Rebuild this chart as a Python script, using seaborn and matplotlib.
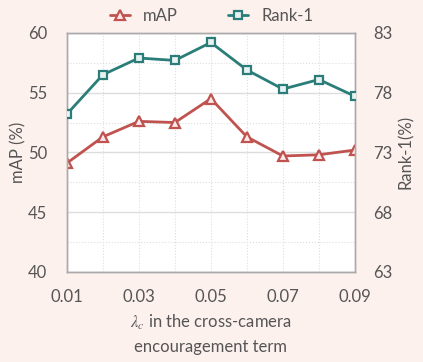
import numpy as np
import pandas as pd
import seaborn as sns
import matplotlib.pyplot as plt
from matplotlib.lines import Line2D

# значения
lam = [0.01, 0.02, 0.03, 0.04, 0.05, 0.06, 0.07, 0.08, 0.09]
map_vals = [49.1, 51.3, 52.6, 52.5, 54.5, 51.3, 49.7, 49.8, 50.2]
rank1_vals = [76.2, 79.5, 80.9, 80.7, 82.2, 79.9, 78.3, 79.1, 77.7]
left_ticks = [40, 45, 50, 55, 60]
right_ticks = [63, 68, 73, 78, 83]
x_ticks = [0.01, 0.03, 0.05, 0.07, 0.09]

red = '#c0534f'
teal = '#2a7d78'
bg = '#fdf1ee'
txt = '#555555'

sns.set_theme(style='white')
plt.rcParams['font.family'] = ['Lato', 'DejaVu Sans']
plt.rcParams['mathtext.fontset'] = 'stix'

df = pd.DataFrame({'lam': lam, 'mAP': map_vals, 'Rank-1': rank1_vals})

fig = plt.figure(figsize=(4.23, 3.62), dpi=100, facecolor=bg)
ax = fig.add_axes([0.158, 0.249, 0.681, 0.660])
ax.set_facecolor('white')

sns.lineplot(data=df, x='lam', y='mAP', ax=ax, color=red, lw=2,
             marker='^', markersize=7, markerfacecolor='#fbeaea',
             markeredgecolor=red, markeredgewidth=1.6, zorder=3)
ax.set_ylim(40, 60)
ax.set_xlim(0.01, 0.09)
ax.set_yticks(left_ticks)
ax.set_yticks([42.5, 47.5, 52.5, 57.5], minor=True)
ax.set_xticks(x_ticks)
ax.set_xticks(lam, minor=True)
ax.set_xticklabels([f'{v:.2f}' for v in x_ticks])

ax.grid(True, which='major', axis='y', color='#dddddd', lw=1, ls='-')
ax.grid(True, which='minor', axis='y', color='#dddddd', lw=0.8, ls=':')
ax.grid(True, which='both', axis='x', color='#dddddd', lw=0.8, ls=':')
ax.set_axisbelow(True)

ax2 = ax.twinx()
sns.lineplot(data=df, x='lam', y='Rank-1', ax=ax2, color=teal, lw=2,
             marker='s', markersize=6, markerfacecolor='#e8f2f1',
             markeredgecolor=teal, markeredgewidth=1.6, zorder=3)
ax2.set_ylim(63, 83)
ax2.set_yticks(right_ticks)

for a in (ax, ax2):
    for s in a.spines.values():
        s.set_color('#aaaaaa')
        s.set_linewidth(1)
    a.tick_params(which='both', length=0, labelsize=12, colors=txt)
ax.tick_params(axis='y', pad=14)
ax.tick_params(axis='x', pad=12)
ax2.tick_params(axis='y', pad=13)

ax.set_ylabel('mAP (%)', fontsize=12, color=txt, labelpad=1)
ax2.set_ylabel('Rank-1(%)', fontsize=12, color=txt, labelpad=4)
ax.set_xlabel('$\\lambda_c$ in the cross-camera\nencouragement term',
              fontsize=12, color=txt, labelpad=6, linespacing=1.5)

handles = [
    Line2D([], [], color=red, lw=2, marker='^', markersize=7,
           markerfacecolor='#fbeaea', markeredgecolor=red, markeredgewidth=1.6),
    Line2D([], [], color=teal, lw=2, marker='s', markersize=6,
           markerfacecolor='#e8f2f1', markeredgecolor=teal, markeredgewidth=1.6),
]
fig.legend(handles, ['mAP', 'Rank-1'], loc='center', bbox_to_anchor=(0.5, 0.955),
           ncol=2, frameon=False, fontsize=12, handlelength=1.2,
           columnspacing=3, labelcolor=txt)

fig.savefig('out.png', dpi=100, facecolor=bg)
